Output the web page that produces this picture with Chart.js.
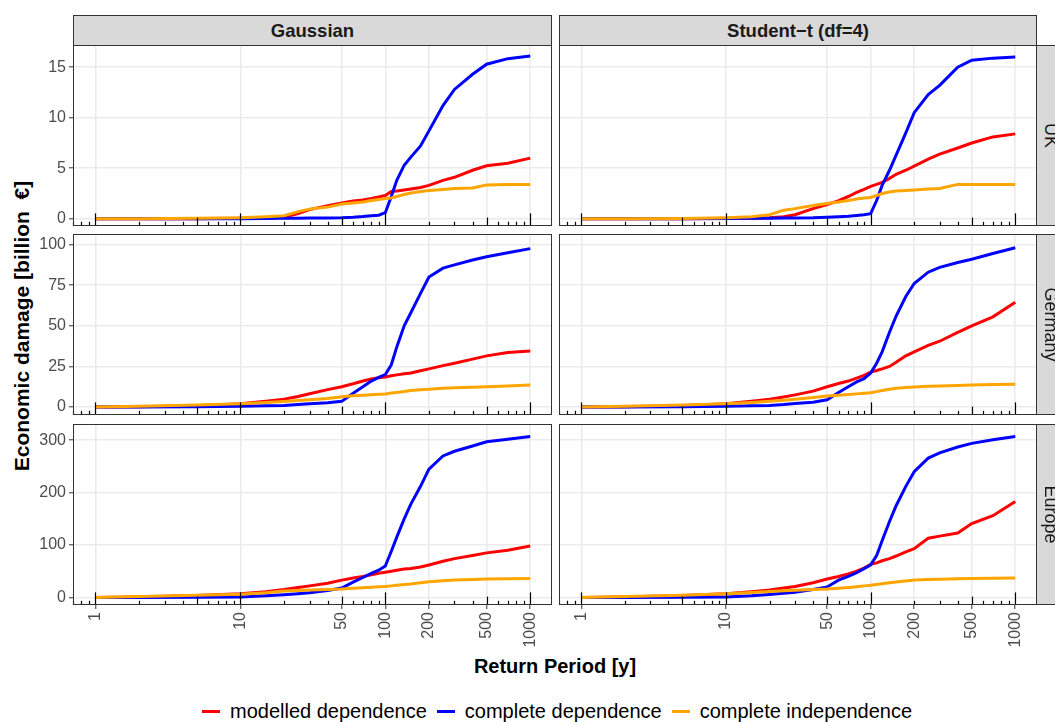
<!DOCTYPE html>
<html>
<head>
<meta charset="utf-8">
<script src="https://cdn.jsdelivr.net/npm/chart.js@4.4.1/dist/chart.umd.min.js"></script>
<style>
    body {
        margin: 0;
        width: 1055px;
        height: 722px;
        overflow: hidden;
        position: relative;
        background: #fff;
        font-family: "Liberation Sans", Arial, sans-serif;
    }
    canvas { position: absolute; }
    .strip {
        position: absolute;
        box-sizing: border-box;
        background: #d9d9d9;
        border: 1px solid #333;
        display: flex;
        align-items: center;
        justify-content: center;
        color: #1a1a1a;
        white-space: nowrap;
    }
    .strip.top { font-weight: bold; font-size: 18.5px; }
    .strip.side span { display: inline-block; transform: rotate(90deg); font-size: 18px; }
    .title { position: absolute; font-weight: bold; font-size: 20px; line-height: 24px; color: #000; text-align: center; white-space: pre; }
    #legend { position: absolute; left: 202px; top: 701px; display: flex; align-items: center; font-size: 20px; line-height: 20px; white-space: nowrap; }
    #legend .key { display: inline-block; width: 18px; height: 3px; margin-right: 10px; }
    #legend .lab { margin-right: 10px; }
</style>
</head>
<body>
<div class="title" style="left:-178px; top:314px; width:400px; font-size:21px; transform:rotate(-90deg);">Economic damage [billion  €]</div>
<div class="title" style="left:355px; top:654px; width:400px;">Return Period [y]</div>
<div id="legend"></div>
<script>
// Data
const returnPeriods = [1, 2, 5, 10, 15, 20, 25, 30, 40, 50, 60, 70, 80, 90, 100, 110, 120, 135, 150, 175, 200, 250, 300, 400, 500, 700, 1000];
const xTicks = [1, 10, 50, 100, 200, 500, 1000];
const copulas = ["Gaussian", "Student\u2212t (df=4)"];
const regions = ["UK", "Germany", "Europe"];
const seriesNames = ["modelled dependence", "complete dependence", "complete independence"];
const seriesColors = ["#FF0000", "#0000FF", "#FFA500"];

const yTicksUK = [0, 5, 10, 15];
const yTicksGermany = [0, 25, 50, 75, 100];
const yTicksEurope = [0, 100, 200, 300];

// UK
const ukGaussModelled = [0, 0, 0, 0.05, 0.1, 0.15, 0.5, 0.9, 1.3, 1.55, 1.75, 1.85, 2.0, 2.15, 2.3, 2.7, 2.75, 2.85, 2.95, 3.1, 3.3, 3.8, 4.1, 4.8, 5.25, 5.5, 6.0];
const ukGaussComplete = [0, 0, 0, 0, 0.02, 0.04, 0.05, 0.06, 0.08, 0.1, 0.15, 0.22, 0.3, 0.35, 0.6, 2.2, 3.8, 5.3, 6.1, 7.2, 8.7, 11.2, 12.8, 14.3, 15.3, 15.85, 16.1];
const ukGaussIndependent = [0, 0, 0.05, 0.1, 0.2, 0.3, 0.7, 0.95, 1.15, 1.45, 1.55, 1.65, 1.8, 1.9, 2.0, 2.05, 2.2, 2.4, 2.55, 2.7, 2.8, 2.9, 3.0, 3.05, 3.35, 3.4, 3.4];
const ukTModelled = [0, 0, 0, 0.02, 0.05, 0.1, 0.2, 0.4, 1.0, 1.4, 1.8, 2.2, 2.6, 2.9, 3.2, 3.4, 3.6, 4.0, 4.4, 4.8, 5.2, 5.9, 6.4, 7.0, 7.5, 8.1, 8.4];
const ukTComplete = [0, 0, 0, 0.02, 0.04, 0.05, 0.06, 0.08, 0.1, 0.15, 0.2, 0.25, 0.33, 0.4, 0.5, 1.8, 3.3, 4.8, 6.3, 8.5, 10.5, 12.3, 13.2, 15.0, 15.7, 15.9, 16.0];
const ukTIndependent = [0, 0, 0.02, 0.1, 0.2, 0.4, 0.85, 1.0, 1.3, 1.5, 1.65, 1.8, 1.95, 2.05, 2.1, 2.3, 2.5, 2.65, 2.75, 2.8, 2.85, 2.95, 3.0, 3.4, 3.4, 3.4, 3.4];

// Germany
const deGaussModelled = [0, 0.2, 0.8, 2.0, 3.5, 4.8, 6.5, 8.2, 10.7, 12.5, 14.3, 16.0, 17.3, 18.0, 18.5, 19.2, 19.8, 20.5, 21.0, 22.3, 23.5, 25.5, 27.0, 29.5, 31.5, 33.5, 34.5];
const deGaussComplete = [0, 0, 0.2, 0.5, 0.8, 1.0, 1.5, 2.0, 2.7, 3.5, 8.5, 12.5, 16.0, 18.2, 20.0, 26.0, 37.0, 50.0, 58.0, 70.0, 80.0, 85.5, 87.5, 90.5, 92.5, 95.0, 97.5];
const deGaussIndependent = [0, 0.5, 1.2, 2.0, 2.8, 3.4, 4.0, 4.5, 5.3, 6.3, 6.9, 7.3, 7.6, 7.8, 8.0, 8.6, 9.0, 9.5, 10.2, 10.7, 11.0, 11.5, 11.8, 12.2, 12.5, 13.0, 13.5];
const deTModelled = [0, 0.2, 0.8, 2.0, 3.5, 4.8, 6.2, 7.5, 9.8, 12.5, 14.5, 16.0, 17.8, 19.5, 21.5, 22.5, 23.5, 25.0, 27.5, 31.5, 34.0, 38.0, 40.5, 46.0, 50.0, 55.5, 64.5];
const deTComplete = [0, 0, 0.2, 0.5, 0.8, 1.0, 1.5, 2.2, 3.0, 4.5, 9.0, 12.5, 15.5, 17.5, 21.0, 27.0, 34.0, 46.0, 56.0, 68.0, 76.0, 83.0, 86.0, 89.0, 91.0, 94.5, 98.0];
const deTIndependent = [0, 0.5, 1.2, 2.0, 2.8, 3.5, 4.2, 4.8, 5.8, 6.8, 7.3, 7.7, 8.1, 8.5, 8.8, 9.5, 10.2, 11.0, 11.6, 12.0, 12.4, 12.8, 13.0, 13.3, 13.5, 13.8, 14.0];

// Europe
const euGaussModelled = [0, 1, 3.5, 7, 11, 15, 19, 22, 27, 33, 37, 40, 43, 46, 48, 50, 52, 54, 55, 58, 62, 69, 74, 80, 85, 90, 98];
const euGaussComplete = [0, 0, 0.5, 1, 3, 5, 7, 9, 13, 18, 29, 38, 46, 52, 60, 88, 115, 150, 178, 212, 245, 270, 279, 289, 297, 302, 307];
const euGaussIndependent = [0, 1.5, 4, 6, 9, 12, 13, 14, 15, 16, 17.5, 18.5, 19.5, 20.5, 21, 22, 23, 24.5, 25.5, 28, 30, 32, 33, 34, 35, 35.5, 36];
const euTModelled = [0, 1, 3.5, 7, 11, 14, 18, 21, 28, 35, 40, 45, 50, 56, 63, 66, 70, 74, 79, 87, 93, 113, 117, 123, 141, 156, 183];
const euTComplete = [0, 0, 0.5, 1, 3, 5.5, 8, 10, 15, 20, 33, 40, 47, 55, 62, 80, 108, 145, 175, 212, 240, 266, 276, 287, 294, 301, 307];
const euTIndependent = [0, 1.5, 4, 7, 9.5, 11.5, 12.5, 13.5, 15, 16, 17.5, 19, 20.5, 22, 23, 24.5, 26, 28, 29.5, 31.5, 33, 34, 34.5, 35.5, 36, 36.5, 37];

// Layout
const colLeft = [73, 559];
const panelW = [479, 478];
const rowTop = [45, 234, 424];
const panelH = 181;
const fontFamily = "'Liberation Sans', Arial, sans-serif";

const panels = [
    { row: 0, col: 0, series: [ukGaussModelled, ukGaussComplete, ukGaussIndependent], yTicks: yTicksUK, yMin: -0.72, yMax: 17.2 },
    { row: 0, col: 1, series: [ukTModelled, ukTComplete, ukTIndependent], yTicks: yTicksUK, yMin: -0.72, yMax: 17.2 },
    { row: 1, col: 0, series: [deGaussModelled, deGaussComplete, deGaussIndependent], yTicks: yTicksGermany, yMin: -4.9, yMax: 106.5 },
    { row: 1, col: 1, series: [deTModelled, deTComplete, deTIndependent], yTicks: yTicksGermany, yMin: -4.9, yMax: 106.5 },
    { row: 2, col: 0, series: [euGaussModelled, euGaussComplete, euGaussIndependent], yTicks: yTicksEurope, yMin: -14.5, yMax: 331 },
    { row: 2, col: 1, series: [euTModelled, euTComplete, euTIndependent], yTicks: yTicksEurope, yMin: -14.5, yMax: 331 },
];

// Log ticks along the bottom + panel border
const panelDecor = {
    id: "panelDecor",
    afterDatasetsDraw(chart) {
        const { ctx, chartArea: a, scales } = chart;
        const xs = scales.x;
        ctx.save();
        ctx.strokeStyle = "#000";
        ctx.lineWidth = 1.2;
        [0.1, 1, 10, 100, 1000].forEach((d) => {
            for (let m = 1; m <= 9; m++) {
                const v = m * d;
                if (v < xs.min || v > xs.max) continue;
                const len = m === 1 ? 12.6 : m === 5 ? 8.4 : 4.2;
                const px = Math.round(xs.getPixelForValue(v)) + 0.5;
                ctx.beginPath();
                ctx.moveTo(px, a.bottom);
                ctx.lineTo(px, a.bottom - len);
                ctx.stroke();
            }
        });
        ctx.strokeStyle = "#333";
        ctx.lineWidth = 1;
        ctx.strokeRect(a.left + 0.5, a.top + 0.5, a.right - a.left - 1, a.bottom - a.top - 1);
        ctx.restore();
    },
};

panels.forEach((p) => {
    const isLeft = p.col === 0;
    const isBottom = p.row === 2;
    const yW = isLeft ? 73 : 0;
    const xH = isBottom ? 60 : 0;

    const canvas = document.createElement("canvas");
    canvas.width = panelW[p.col] + yW;
    canvas.height = panelH + xH;
    canvas.style.left = colLeft[p.col] - yW + "px";
    canvas.style.top = rowTop[p.row] + "px";
    document.body.appendChild(canvas);

    new Chart(canvas, {
        type: "line",
        data: {
            datasets: p.series.map((vals, i) => ({
                label: seriesNames[i],
                data: returnPeriods.map((x, k) => ({ x: x, y: vals[k] })),
                borderColor: seriesColors[i],
                backgroundColor: seriesColors[i],
                borderWidth: 3,
                pointRadius: 0,
                tension: 0,
                order: 2 - i,
            })),
        },
        options: {
            responsive: false,
            animation: false,
            devicePixelRatio: 1,
            layout: { padding: 0 },
            plugins: { legend: { display: false }, tooltip: { enabled: false } },
            scales: {
                x: {
                    type: "logarithmic",
                    min: 0.708,
                    max: 1413,
                    afterBuildTicks: (s) => { s.ticks = xTicks.map((v) => ({ value: v })); },
                    afterFit: (s) => { s.height = xH; s.paddingLeft = 0; s.paddingRight = 0; },
                    grid: { color: "#EBEBEB", lineWidth: 1.6, drawTicks: isBottom, tickLength: 4, tickColor: "#333", tickWidth: 1 },
                    border: { display: false },
                    ticks: {
                        display: isBottom,
                        autoSkip: false,
                        minRotation: 90,
                        maxRotation: 90,
                        padding: 3,
                        color: "#4D4D4D",
                        font: { size: 16, family: fontFamily },
                        callback: (v) => String(v),
                    },
                },
                y: {
                    min: p.yMin,
                    max: p.yMax,
                    afterBuildTicks: (s) => { s.ticks = p.yTicks.map((v) => ({ value: v })); },
                    afterFit: (s) => { s.width = yW; s.paddingTop = 0; s.paddingBottom = 0; },
                    grid: { color: "#EBEBEB", lineWidth: 1.6, drawTicks: isLeft, tickLength: 4, tickColor: "#333", tickWidth: 1 },
                    border: { display: false },
                    ticks: {
                        display: isLeft,
                        padding: 3,
                        color: "#4D4D4D",
                        font: { size: 16, family: fontFamily },
                    },
                },
            },
        },
        plugins: [panelDecor],
    });
});

// Strips
copulas.forEach((name, c) => {
    const d = document.createElement("div");
    d.className = "strip top";
    d.style.left = colLeft[c] + "px";
    d.style.top = "15px";
    d.style.width = panelW[c] + "px";
    d.style.height = "31px";
    d.textContent = name;
    document.body.appendChild(d);
});
regions.forEach((name, r) => {
    const d = document.createElement("div");
    d.className = "strip side";
    d.style.left = "1036px";
    d.style.top = rowTop[r] + "px";
    d.style.width = "29px";
    d.style.height = panelH + "px";
    const s = document.createElement("span");
    s.textContent = name;
    d.appendChild(s);
    document.body.appendChild(d);
});

// Legend
const legend = document.getElementById("legend");
seriesNames.forEach((name, i) => {
    const k = document.createElement("span");
    k.className = "key";
    k.style.background = seriesColors[i];
    const t = document.createElement("span");
    t.className = "lab";
    t.textContent = name;
    legend.appendChild(k);
    legend.appendChild(t);
});
</script>
</body>
</html>
